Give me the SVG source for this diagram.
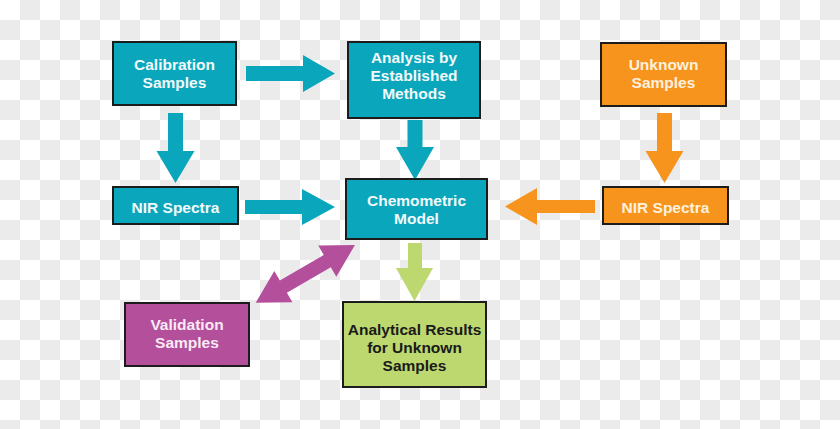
<svg xmlns="http://www.w3.org/2000/svg" width="840" height="429" viewBox="0 0 840 429">
<defs>
<pattern id="checker" width="40" height="40" patternUnits="userSpaceOnUse">
<rect width="40" height="40" fill="#ffffff"/>
<rect x="20" y="0" width="20" height="20" fill="#ebebeb"/>
<rect x="0" y="20" width="20" height="20" fill="#ebebeb"/>
</pattern>
<style>
.box{stroke:#1c1c1c;stroke-width:2}
.teal{fill:#0aa6bb}
.orange{fill:#f7941e}
.purple{fill:#b44f9c}
.green{fill:#bdd86f}
text{font-family:"Liberation Sans",Arial,sans-serif;font-weight:bold;font-size:15.5px;text-anchor:middle}
.lt{fill:#f2fafb}
.lo{fill:#fdf1de}
.lp{fill:#f9eaf5}
.dk{fill:#1a1a1a}
</style>
</defs>
<rect width="840" height="429" fill="url(#checker)"/>

<g id="connectors">
<polygon class="teal" points="246,66 303,66 303,55 335,73.5 303,92 303,81 246,81"/>
<polygon class="teal" points="245,200 302,200 302,189 335,207 302,225 302,214 245,214"/>
<polygon class="orange" points="595,200 537,200 537,188 505,206.5 537,225 537,213 595,213"/>
<polygon class="teal" points="168,113 183,113 183,151 194.5,151 175.5,183 156.5,151 168,151"/>
<polygon class="teal" points="407.5,120 422.5,120 422.5,147 434,147 415,180 396,147 407.5,147"/>
<polygon class="orange" points="657,113 672,113 672,151 683.5,151 664.5,183 645.5,151 657,151"/>
<polygon class="green" points="408,243 422,243 422,268 433,268 414.5,301 396,268 408,268"/>
<polygon class="purple" transform="translate(255.7,302.7) rotate(-30.16)" points="0,0 32,-18 32,-7 82.8,-7 82.8,-18 114.8,0 82.8,18 82.8,7 32,7 32,18"/>
</g>

<g id="calibration">
<rect class="box teal" x="113" y="42" width="123" height="63"/>
<text class="lt" x="174.5" y="70">Calibration</text>
<text class="lt" x="174.5" y="88">Samples</text>
</g>
<g id="analysis">
<rect class="box teal" x="348" y="42" width="132" height="76"/>
<text class="lt" x="414" y="63">Analysis by</text>
<text class="lt" x="414" y="81">Established</text>
<text class="lt" x="414" y="99">Methods</text>
</g>
<g id="unknown">
<rect class="box orange" x="601" y="43" width="125" height="63"/>
<text class="lo" x="663.5" y="69.5">Unknown</text>
<text class="lo" x="663.5" y="87.5">Samples</text>
</g>
<g id="nir-left">
<rect class="box teal" x="113" y="187" width="125" height="37"/>
<text class="lt" x="175.5" y="212.5">NIR Spectra</text>
</g>
<g id="chemometric">
<rect class="box teal" x="346" y="179" width="141" height="60"/>
<text class="lt" x="416.5" y="206">Chemometric</text>
<text class="lt" x="416.5" y="224">Model</text>
</g>
<g id="nir-right">
<rect class="box orange" x="603" y="187" width="125" height="37"/>
<text class="lo" x="665.5" y="212.5">NIR Spectra</text>
</g>
<g id="validation">
<rect class="box purple" x="125" y="303" width="124" height="63"/>
<text class="lp" x="187" y="329.5">Validation</text>
<text class="lp" x="187" y="347.5">Samples</text>
</g>
<g id="results">
<rect class="box green" x="343" y="302" width="143" height="85"/>
<text class="dk" x="414.5" y="335">Analytical Results</text>
<text class="dk" x="414.5" y="353">for Unknown</text>
<text class="dk" x="414.5" y="371">Samples</text>
</g>
</svg>
